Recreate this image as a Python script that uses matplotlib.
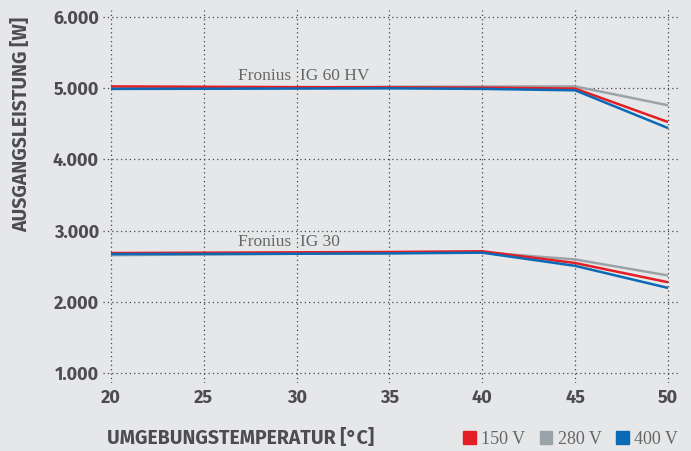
import matplotlib.pyplot as plt
from matplotlib.patches import Patch
from matplotlib.ticker import FuncFormatter

temps = [20, 25, 30, 35, 40, 45, 50]

# Fronius IG 60 HV
ig60_150 = [5025, 5020, 5015, 5012, 5008, 4995, 4525]
ig60_280 = [4995, 5000, 5010, 5020, 5022, 5025, 4760]
ig60_400 = [4990, 4992, 4995, 4998, 4990, 4970, 4440]

# Fronius IG 30
ig30_150 = [2685, 2690, 2695, 2700, 2710, 2545, 2275]
ig30_280 = [2655, 2665, 2675, 2685, 2695, 2595, 2370]
ig30_400 = [2670, 2672, 2675, 2680, 2690, 2505, 2195]

y_ticks = [1000, 2000, 3000, 4000, 5000, 6000]
series_names = ["150 V", "280 V", "400 V"]

RED = "#e31e24"
GRAY = "#9aa3a8"
BLUE = "#0a6ab5"
BG = "#e6e7e9"
TXT = "#4d4d4f"

bold_font = ["Fira Sans", "DejaVu Sans"]
serif_font = ["Liberation Serif", "DejaVu Serif"]

fig = plt.figure(figsize=(6.91, 4.51), dpi=100, facecolor=BG)
ax = fig.add_axes([103 / 691, 1 - 383 / 451, (681 - 103) / 691, (383 - 10) / 451])
ax.set_facecolor(BG)

for vals, col in [(ig60_280, GRAY), (ig60_150, RED), (ig60_400, BLUE),
                  (ig30_280, GRAY), (ig30_150, RED), (ig30_400, BLUE)]:
    ax.plot(temps, vals, color=col, lw=1.8, solid_capstyle="butt", zorder=3)

ax.text(26.85, 5055, "Fronius  IG 60 HV", family=serif_font, fontsize=12.5,
        color="#666666", ha="left", va="bottom")
ax.text(26.85, 2730, "Fronius  IG 30", family=serif_font, fontsize=12.5,
        color="#666666", ha="left", va="bottom")

ax.set_xlim(19.57, 50.7)
ax.set_ylim(860, 6098)
ax.set_xticks(temps)
ax.set_yticks(y_ticks)
ax.yaxis.set_major_formatter(FuncFormatter(lambda v, p: f"{int(v):,}".replace(",", ".")))
ax.grid(True, linestyle=(0, (1, 2.5)), color="#444444", lw=0.9)
for s in ax.spines.values():
    s.set_visible(False)
ax.tick_params(axis="y", length=0, pad=3, colors=TXT)
ax.tick_params(axis="x", length=0, pad=4, colors=TXT)
for lab in ax.get_xticklabels() + ax.get_yticklabels():
    lab.set_family(bold_font)
    lab.set_fontweight("bold")
    lab.set_fontsize(13)
    lab.set_color(TXT)

fig.text(22 / 691, 1 - 124 / 451, "AUSGANGSLEISTUNG [W]", rotation=90,
         family=bold_font, fontweight="bold", fontsize=14, color=TXT,
         ha="center", va="center")
fig.text(107 / 691, 1 - 438.5 / 451, "UMGEBUNGSTEMPERATUR [°C]",
         family=bold_font, fontweight="bold", fontsize=14, color=TXT,
         ha="left", va="center")

handles = [Patch(color=c) for c in (RED, GRAY, BLUE)]
fig.legend(handles, series_names, loc="center right",
           bbox_to_anchor=(678 / 691, 1 - 439 / 451), ncol=3, frameon=False,
           prop={"family": serif_font, "size": 13}, handlelength=0.7,
           handleheight=0.7, handletextpad=0.3, columnspacing=0.8,
           borderpad=0, borderaxespad=0, labelcolor="#666666")

fig.savefig("out.png", dpi=100, facecolor=BG)
